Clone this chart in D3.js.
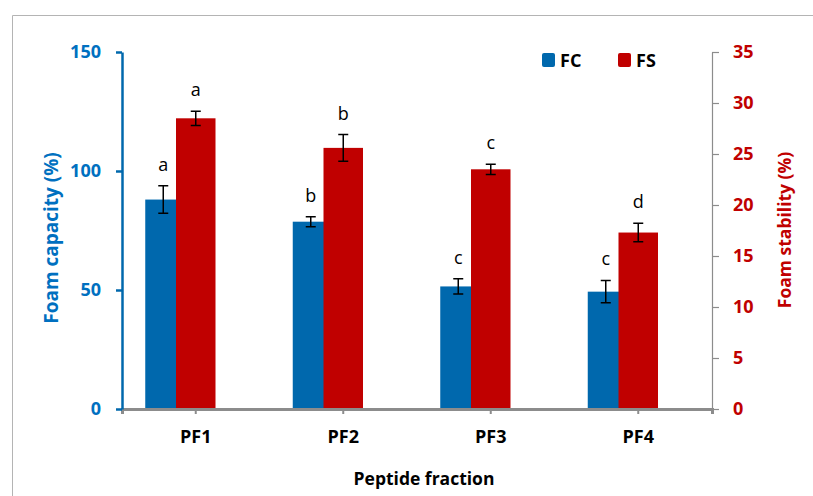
<!DOCTYPE html>
<html>
<head>
<meta charset="utf-8">
<script src="https://cdn.jsdelivr.net/npm/d3@7"></script>
<style>
  body { margin: 0; background: #fff; }
  text { font-family: "Open Sans", "Noto Sans", sans-serif; }
</style>
</head>
<body>
<script>
// data
var fractions = ["PF1", "PF2", "PF3", "PF4"];
var fcMean = [88, 78.7, 51.5, 49.3];   // foam capacity (%), left axis
var fcErr = [5.8, 2.1, 3.2, 4.7];
var fsMean = [28.5, 25.6, 23.5, 17.3]; // foam stability (%), right axis
var fsErr = [0.7, 1.3, 0.5, 0.9];
var fcLetters = ["a", "b", "c", "c"];
var fsLetters = ["a", "b", "c", "d"];
var leftTicks = [0, 50, 100, 150];
var rightTicks = [0, 5, 10, 15, 20, 25, 30, 35];

var width = 813, height = 496;
var margin = {top: 52, right: 101, bottom: 87, left: 122};
var blue = "#0068ad", red = "#c00000";
var font = "'Open Sans', sans-serif";

var rows = fractions.map((f, i) => ({f: f, fc: fcMean[i], fce: fcErr[i], fs: fsMean[i], fse: fsErr[i], lc: fcLetters[i], ls: fsLetters[i]}));

var x = d3.scaleBand()
  .domain(fractions)
  .range([margin.left, width - margin.right]);

var yL = d3.scaleLinear().domain([0, 150]).range([height - margin.bottom, margin.top]);
var yR = d3.scaleLinear().domain([0, 35]).range([height - margin.bottom, margin.top]);

var cx = d => x(d.f) + x.bandwidth() / 2;
var blueW = 36, redW = 39.5, blueShift = -32.5;

var svg = d3.select("body").append("svg")
  .attr("width", width)
  .attr("height", height);

// outer frame (chart area border)
svg.append("path")
  .attr("d", "M12.5,496 V15.5 H813")
  .attr("fill", "none")
  .attr("stroke", "#b4b4b4")
  .attr("stroke-width", 1);

// FC bars
svg.append("g").selectAll("rect")
  .data(rows).enter().append("rect")
  .attr("x", d => cx(d) + blueShift - blueW / 2)
  .attr("y", d => yL(d.fc))
  .attr("width", blueW)
  .attr("height", d => yL(0) - yL(d.fc))
  .attr("fill", blue);

// FS bars (drawn on top)
svg.append("g").selectAll("rect")
  .data(rows).enter().append("rect")
  .attr("x", d => cx(d) - redW / 2)
  .attr("y", d => yR(d.fs))
  .attr("width", redW)
  .attr("height", d => yR(0) - yR(d.fs))
  .attr("fill", red);

// error bars
function errBars(getX, getY, lo, hi) {
  var g = svg.append("g").attr("stroke", "#000").attr("stroke-width", 1.5).attr("fill", "none");
  g.selectAll("path").data(rows).enter().append("path")
    .attr("d", d => {
      var px = getX(d), t = getY(hi(d)), b = getY(lo(d));
      return `M${px},${t}V${b}M${px - 5},${t}H${px + 5}M${px - 5},${b}H${px + 5}`;
    });
}
errBars(d => cx(d) + blueShift, yL, d => d.fc - d.fce, d => d.fc + d.fce);
errBars(d => cx(d), yR, d => d.fs - d.fse, d => d.fs + d.fse);

// significance letters
svg.append("g").selectAll("text")
  .data(rows).enter().append("text")
  .attr("x", d => cx(d) + blueShift)
  .attr("y", d => yL(d.fc + d.fce) - 15)
  .attr("text-anchor", "middle")
  .attr("font-size", 18)
  .text(d => d.lc);
svg.append("g").selectAll("text")
  .data(rows).enter().append("text")
  .attr("x", d => cx(d))
  .attr("y", d => yR(d.fs + d.fse) - 15)
  .attr("text-anchor", "middle")
  .attr("font-size", 18)
  .text(d => d.ls);

// x axis
var gx = svg.append("g")
  .attr("transform", `translate(0,${yL(0)})`)
  .call(d3.axisBottom(x).tickSize(5).tickSizeOuter(5).tickPadding(16));
gx.select(".domain").attr("stroke", "#8c8c8c").attr("stroke-width", 3);
gx.selectAll(".tick line").attr("stroke", "#8c8c8c").attr("stroke-width", 2);
gx.selectAll(".tick text")
  .attr("font-size", 18).attr("font-weight", "bold").attr("fill", "#000")
  .style("font-family", font);

// left axis
var gl = svg.append("g")
  .attr("transform", `translate(${margin.left},0)`)
  .call(d3.axisLeft(yL).tickValues(leftTicks).tickSize(6).tickSizeOuter(0).tickPadding(15));
gl.select(".domain").attr("stroke", blue).attr("stroke-width", 2.5);
gl.selectAll(".tick line").attr("stroke", blue).attr("stroke-width", 2.5);
gl.selectAll(".tick text")
  .attr("font-size", 18).attr("font-weight", "bold").attr("fill", "#0070c0")
  .style("font-family", font);

// right axis
var gr = svg.append("g")
  .attr("transform", `translate(${width - margin.right},0)`)
  .call(d3.axisRight(yR).tickValues(rightTicks).tickSize(7).tickSizeOuter(0).tickPadding(14));
gr.select(".domain").attr("stroke", "#8c8c8c").attr("stroke-width", 1.2);
gr.selectAll(".tick line").attr("stroke", "#8c8c8c").attr("stroke-width", 1.2);
gr.selectAll(".tick text")
  .attr("font-size", 18).attr("font-weight", "bold").attr("fill", red)
  .style("font-family", font);

// axis titles
svg.append("text")
  .attr("transform", `translate(58,238) rotate(-90)`)
  .attr("text-anchor", "middle")
  .attr("font-size", 19).attr("font-weight", "bold").attr("fill", "#0070c0")
  .text("Foam capacity (%)");
svg.append("text")
  .attr("transform", `translate(791,230) rotate(-90)`)
  .attr("text-anchor", "middle")
  .attr("font-size", 17.5).attr("font-weight", "bold").attr("fill", red)
  .text("Foam stability (%)");
svg.append("text")
  .attr("x", 424).attr("y", 485)
  .attr("text-anchor", "middle")
  .attr("font-size", 17.5).attr("font-weight", "bold").attr("fill", "#000")
  .text("Peptide fraction");

// legend
var legend = svg.append("g").selectAll("g")
  .data([{k: "FC", c: blue, x: 542}, {k: "FS", c: red, x: 618}])
  .enter().append("g")
  .attr("transform", d => `translate(${d.x},53)`);
legend.append("rect")
  .attr("width", 13).attr("height", 14).attr("rx", 2)
  .attr("fill", d => d.c);
legend.append("text")
  .attr("x", 18).attr("y", 13.5)
  .attr("font-size", 18).attr("font-weight", "bold")
  .text(d => d.k);
</script>
</body>
</html>
